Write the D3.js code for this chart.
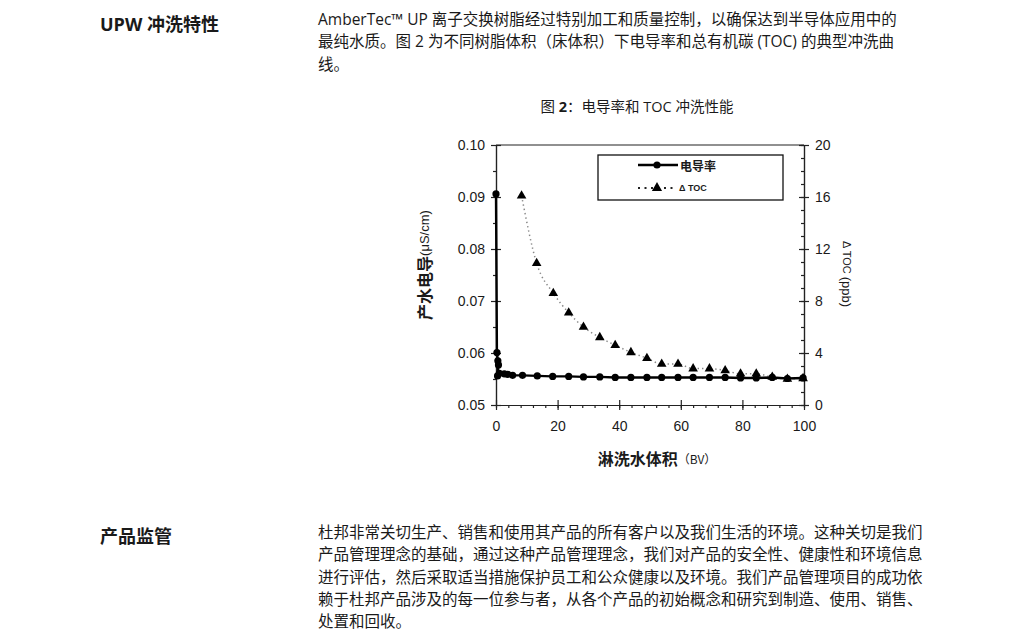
<!DOCTYPE html>
<html>
<head>
<meta charset="utf-8">
<script src="https://cdn.jsdelivr.net/npm/d3@7"></script>
<style>
  body { margin: 0; background: #fff; }
  svg text { fill: #1a1a1a; }
</style>
</head>
<body>
<div id="chart"></div>
<script>
// conductivity (uS/cm) vs rinse volume (BV)
var condBV = [0, 0.3, 0.6, 0.8, 0.5, 1.1, 2.7, 3.8, 5.4, 8.6, 13.4, 18.4, 23.6, 28.4, 33.7, 38.7, 43.8, 49, 53.8, 59.1, 64, 69.3, 74.4, 79.4, 84.5, 89.7, 94.6, 99.7];
var condVal = [0.0906, 0.0601, 0.0585, 0.0577, 0.0556, 0.0561, 0.0560, 0.0559, 0.0557, 0.0557, 0.0556, 0.0555, 0.0555, 0.0554, 0.0554, 0.0553, 0.0553, 0.0553, 0.0553, 0.0553, 0.0553, 0.0553, 0.0553, 0.0552, 0.0552, 0.0553, 0.0551, 0.0552];
// delta TOC (ppb)
var tocBV = [8.3, 13.2, 18.6, 23.6, 28.4, 33.7, 38.7, 43.8, 49, 53.8, 59.1, 64, 69.3, 74.4, 79.4, 84.5, 89.7, 94.6, 99.7];
var tocVal = [16.1, 10.9, 8.6, 7.1, 6.0, 5.2, 4.6, 4.05, 3.6, 3.15, 3.15, 2.8, 2.8, 2.65, 2.4, 2.4, 2.15, 2.0, 2.05];

var xTicks = [0, 20, 40, 60, 80, 100];
var yTicks = [0.05, 0.06, 0.07, 0.08, 0.09, 0.10];
var y2Ticks = [0, 4, 8, 12, 16, 20];

var para1 = [
  "AmberTec™ UP 离子交换树脂经过特别加工和质量控制，以确保达到半导体应用中的",
  "最纯水质。图 2 为不同树脂体积（床体积）下电导率和总有机碳 (TOC) 的典型冲洗曲",
  "线。"
];
var para2 = [
  "杜邦非常关切生产、销售和使用其产品的所有客户以及我们生活的环境。这种关切是我们",
  "产品管理理念的基础，通过这种产品管理理念，我们对产品的安全性、健康性和环境信息",
  "进行评估，然后采取适当措施保护员工和公众健康以及环境。我们产品管理项目的成功依",
  "赖于杜邦产品涉及的每一位参与者，从各个产品的初始概念和研究到制造、使用、销售、",
  "处置和回收。"
];

var W = 1015, H = 631;
var bodyFont = "'Open Sans', 'Noto Sans CJK SC', sans-serif";
var chartFont = "'Liberation Sans', Arial, sans-serif";

var svg = d3.select("#chart").append("svg")
  .attr("width", W).attr("height", H);

// ---- page text ----
function heading(txt, y) {
  svg.append("text")
    .attr("x", 100).attr("y", y)
    .attr("dominant-baseline", "central")
    .style("font-family", bodyFont)
    .style("font-weight", "bold")
    .style("font-size", "18px")
    .text(txt);
}
function paragraph(lines, y0) {
  svg.append("g").selectAll("text")
    .data(lines)
    .enter().append("text")
    .attr("x", 318)
    .attr("y", function (d, i) { return y0 + i * 22.3; })
    .attr("dominant-baseline", "central")
    .style("font-family", bodyFont)
    .style("font-size", "15.5px")
    .text(function (d) { return d; });
}
heading("UPW 冲洗特性", 24);
paragraph(para1, 19);
heading("产品监管", 536);
paragraph(para2, 532);

var cap = svg.append("text")
  .attr("x", 637).attr("y", 106)
  .attr("text-anchor", "middle")
  .attr("dominant-baseline", "central")
  .style("font-family", bodyFont)
  .style("font-size", "14.5px");
cap.append("tspan").text("图 ");
cap.append("tspan").style("font-weight", "bold").text("2");
cap.append("tspan").text("：电导率和 TOC 冲洗性能");

// ---- chart ----
var plotL = 496, plotR = 804, plotT = 145, plotB = 405;

var x = d3.scaleLinear().domain([0, 100]).range([plotL, plotR]);
var y = d3.scaleLinear().domain([0.05, 0.10]).range([plotB, plotT]);
var y2 = d3.scaleLinear().domain([0, 20]).range([plotB, plotT]);

var axisColor = "#222";

function styleAxis(g) {
  g.selectAll("path, line").attr("stroke", axisColor).attr("stroke-width", 1.2);
  g.selectAll("text")
    .style("font-family", chartFont)
    .style("font-size", "14px")
    .attr("fill", "#222");
}

// minor ticks
svg.append("g")
  .attr("transform", "translate(" + plotL + ",0)")
  .call(d3.axisLeft(y).tickValues(d3.range(0.055, 0.1, 0.01)).tickSize(3).tickSizeOuter(0).tickFormat(""))
  .call(styleAxis);
svg.append("g")
  .attr("transform", "translate(" + plotR + ",0)")
  .call(d3.axisLeft(y2).tickValues(d3.range(0, 21, 1)).tickSize(3).tickSizeOuter(0).tickFormat(""))
  .call(styleAxis);
svg.append("g")
  .attr("transform", "translate(0," + plotB + ")")
  .call(d3.axisBottom(x).tickValues(d3.range(0, 101, 4)).tickSize(3).tickSizeOuter(0).tickFormat(""))
  .call(styleAxis);

// major ticks (crossing the axis)
var gy = svg.append("g")
  .attr("transform", "translate(" + plotL + ",0)")
  .call(d3.axisLeft(y).tickValues(yTicks).tickSize(5).tickSizeOuter(0).tickPadding(6).tickFormat(d3.format(".2f")))
  .call(styleAxis);
gy.selectAll(".tick").append("line").attr("x2", 5).attr("stroke", axisColor).attr("stroke-width", 1.2);

var gy2 = svg.append("g")
  .attr("transform", "translate(" + plotR + ",0)")
  .call(d3.axisRight(y2).tickValues(y2Ticks).tickSize(5).tickSizeOuter(0).tickPadding(6))
  .call(styleAxis);
gy2.selectAll(".tick").append("line").attr("x2", -5).attr("stroke", axisColor).attr("stroke-width", 1.2);

var gx = svg.append("g")
  .attr("transform", "translate(0," + plotB + ")")
  .call(d3.axisBottom(x).tickValues(xTicks).tickSize(5).tickSizeOuter(0).tickPadding(11))
  .call(styleAxis);
gx.selectAll(".tick").append("line").attr("y2", -5).attr("stroke", axisColor).attr("stroke-width", 1.2);

// top border
svg.append("line")
  .attr("x1", plotL).attr("x2", plotR)
  .attr("y1", plotT).attr("y2", plotT)
  .attr("stroke", axisColor).attr("stroke-width", 1.2);

// TOC series
var tocData = tocBV.map(function (d, i) { return [d, tocVal[i]]; });
svg.append("path")
  .datum(tocData)
  .attr("fill", "none")
  .attr("stroke", "#888")
  .attr("stroke-width", 1.5)
  .attr("stroke-dasharray", "1.4,3")
  .attr("d", d3.line()
    .curve(d3.curveMonotoneX)
    .x(function (d) { return x(d[0]); })
    .y(function (d) { return y2(d[1]); }));

var tri = d3.symbol().type(d3.symbolTriangle).size(40);
svg.append("g").selectAll("path")
  .data(tocData)
  .enter().append("path")
  .attr("d", tri)
  .attr("fill", "#000")
  .attr("transform", function (d) { return "translate(" + x(d[0]) + "," + y2(d[1]) + ")"; });

// conductivity series
var condData = condBV.map(function (d, i) { return [d, condVal[i]]; });
svg.append("path")
  .datum(condData)
  .attr("fill", "none")
  .attr("stroke", "#000")
  .attr("stroke-width", 2.4)
  .attr("d", d3.line()
    .x(function (d) { return x(d[0]); })
    .y(function (d) { return y(d[1]); }));

svg.append("g").selectAll("circle")
  .data(condData)
  .enter().append("circle")
  .attr("cx", function (d) { return x(d[0]); })
  .attr("cy", function (d) { return y(d[1]); })
  .attr("r", 3.6)
  .attr("fill", "#000");

// legend
var lg = svg.append("g");
lg.append("rect")
  .attr("x", 598).attr("y", 155)
  .attr("width", 185).attr("height", 45)
  .attr("fill", "#fff")
  .attr("stroke", "#111").attr("stroke-width", 1.3);
lg.append("line")
  .attr("x1", 638).attr("x2", 678).attr("y1", 165).attr("y2", 165)
  .attr("stroke", "#000").attr("stroke-width", 2.4);
lg.append("circle").attr("cx", 657).attr("cy", 165).attr("r", 3.6).attr("fill", "#000");
lg.append("text")
  .attr("x", 680).attr("y", 165)
  .attr("dominant-baseline", "central")
  .style("font-family", "'Noto Sans CJK SC', sans-serif")
  .style("font-weight", "bold")
  .style("font-size", "12px")
  .text("电导率");
lg.append("line")
  .attr("x1", 638).attr("x2", 676).attr("y1", 188).attr("y2", 188)
  .attr("stroke", "#222").attr("stroke-width", 2)
  .attr("stroke-dasharray", "2,4.5");
lg.append("path")
  .attr("d", d3.symbol().type(d3.symbolTriangle).size(45))
  .attr("fill", "#000")
  .attr("transform", "translate(657,188)");
lg.append("text")
  .attr("x", 679).attr("y", 188)
  .attr("dominant-baseline", "central")
  .style("font-family", chartFont)
  .style("font-weight", "bold")
  .style("font-size", "9px")
  .text("Δ TOC");

// axis titles
var xt = svg.append("text")
  .attr("x", 657).attr("y", 458)
  .attr("text-anchor", "middle")
  .attr("dominant-baseline", "central")
  .style("font-family", "'Noto Sans CJK SC', sans-serif")
  .style("font-weight", "bold")
  .style("font-size", "16px");
xt.append("tspan").text("淋洗水体积");
xt.append("tspan").style("font-size", "12px").style("font-weight", "normal").text("（BV）");

var yt = svg.append("text")
  .attr("transform", "translate(424,265) rotate(-90)")
  .attr("text-anchor", "middle")
  .attr("dominant-baseline", "central")
  .style("font-family", "'Noto Sans CJK SC', sans-serif")
  .style("font-weight", "bold")
  .style("font-size", "16px");
yt.append("tspan").text("产水电导");
yt.append("tspan").style("font-size", "13px").style("font-weight", "normal").style("font-family", chartFont).text("(μS/cm)");

var y2t = svg.append("text")
  .attr("transform", "translate(847,274) rotate(90)")
  .attr("text-anchor", "middle")
  .attr("dominant-baseline", "central")
  .style("font-family", chartFont)
  .style("font-size", "11px");
y2t.append("tspan").text("Δ TOC ");
y2t.append("tspan").style("font-size", "13px").text("(ppb)");
</script>
</body>
</html>
